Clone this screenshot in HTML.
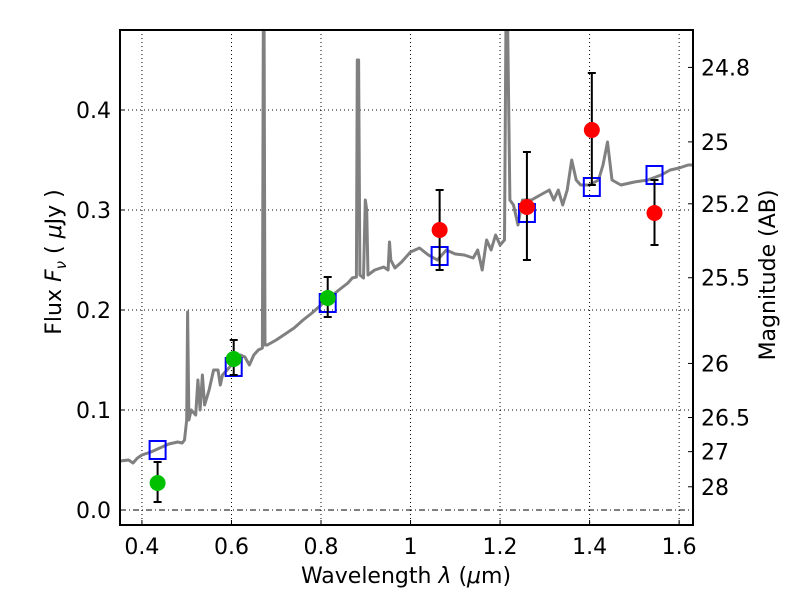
<!DOCTYPE html>
<html><head><meta charset="utf-8"><style>
html,body{margin:0;padding:0;background:#fff;}
svg{display:block;font-family:"DejaVu Sans","Liberation Sans",sans-serif;}
</style></head><body>
<svg id="chart" width="800" height="600" viewBox="0 0 800 600"></svg>
<script>
const specX=[0.35,0.37,0.38,0.39,0.40,0.42,0.44,0.46,0.48,0.49,0.495,0.50,0.502,0.505,0.51,0.52,0.525,0.53,0.535,0.54,0.55,0.56,0.57,0.575,0.58,0.59,0.60,0.61,0.62,0.63,0.64,0.65,0.66,0.669,0.671,0.673,0.675,0.68,0.70,0.72,0.74,0.76,0.78,0.80,0.82,0.84,0.86,0.87,0.879,0.881,0.884,0.887,0.895,0.899,0.902,0.905,0.92,0.94,0.95,0.953,0.956,0.965,0.98,1.0,1.02,1.04,1.06,1.08,1.10,1.12,1.14,1.15,1.16,1.17,1.18,1.19,1.20,1.21,1.213,1.217,1.222,1.23,1.24,1.25,1.27,1.29,1.31,1.32,1.33,1.34,1.35,1.36,1.37,1.38,1.40,1.42,1.43,1.44,1.45,1.47,1.50,1.53,1.56,1.58,1.60,1.62,1.63];
const specY=[0.049,0.050,0.047,0.052,0.055,0.058,0.062,0.066,0.068,0.067,0.070,0.090,0.198,0.090,0.100,0.095,0.130,0.100,0.135,0.105,0.120,0.140,0.140,0.125,0.135,0.140,0.145,0.150,0.155,0.153,0.145,0.155,0.160,0.162,0.480,0.480,0.165,0.165,0.170,0.176,0.182,0.190,0.197,0.205,0.213,0.220,0.227,0.232,0.233,0.450,0.450,0.235,0.232,0.310,0.300,0.235,0.240,0.243,0.240,0.268,0.250,0.242,0.248,0.258,0.262,0.255,0.250,0.260,0.256,0.255,0.252,0.260,0.240,0.270,0.260,0.275,0.265,0.270,0.480,0.480,0.310,0.305,0.285,0.310,0.310,0.315,0.320,0.310,0.320,0.305,0.320,0.350,0.330,0.325,0.325,0.330,0.345,0.368,0.330,0.325,0.328,0.330,0.335,0.340,0.342,0.345,0.345];
const obsX=[0.435,0.605,0.815,1.065,1.26,1.405,1.545];
const obsY=[0.027,0.151,0.212,0.280,0.303,0.380,0.297];
const obsLo=[0.008,0.135,0.193,0.240,0.250,0.325,0.265];
const obsHi=[0.048,0.170,0.233,0.320,0.358,0.437,0.330];
const obsColor=["#00c000","#00c000","#00c000","#ff0000","#ff0000","#ff0000","#ff0000"];
const modelY=[0.060,0.143,0.207,0.254,0.297,0.323,0.335];
const xTicks=[0.4,0.6,0.8,1.0,1.2,1.4,1.6];
const xTickLabels=["0.4","0.6","0.8","1","1.2","1.4","1.6"];
const yTicks=[0.0,0.1,0.2,0.3,0.4];
const yTickLabels=["0.0","0.1","0.2","0.3","0.4"];
const magTicks=[24.8,25,25.2,25.5,26,26.5,27,28];
const magTickLabels=["24.8","25","25.2","25.5","26","26.5","27","28"];

const L=120,R=693,T=30,B=525;
const X0=0.351,X1=1.631,Y0=-0.015,Y1=0.48;
const sx=v=>L+(v-X0)/(X1-X0)*(R-L);
const sy=v=>B-(v-Y0)/(Y1-Y0)*(B-T);
const ZP=23.915;
const magToFlux=m=>Math.pow(10,(ZP-m)/2.5);
const svg=document.getElementById('chart');
const NS='http://www.w3.org/2000/svg';
function mk(tag,attrs,parent){const e=document.createElementNS(NS,tag);for(const k in attrs)e.setAttribute(k,attrs[k]);(parent||svg).appendChild(e);return e;}

const defs=mk('defs',{});
const cp=mk('clipPath',{id:'clip'},defs);
mk('rect',{x:L,y:T,width:R-L,height:B-T},cp);

xTicks.forEach((t,i)=>{
 const g=mk('line',{x1:sx(t),x2:sx(t),y1:T,y2:B,stroke:'#000','stroke-width':1,'stroke-dasharray':'1,3'});
 
 
 const tk=mk('line',{x1:sx(t),x2:sx(t),y1:B,y2:B-5,stroke:'#000'});
 
 
 const tx=mk('text',{x:sx(t),y:B+29,'font-size':22,'text-anchor':'middle'});
 tx.textContent=xTickLabels[i];
 
 
});
yTicks.forEach((t,i)=>{
 const g=mk('line',{x1:L,x2:R,y1:sy(t),y2:sy(t),stroke:'#000','stroke-width':1,'stroke-dasharray':t===0?'6,3,1,3':'1,3'});
 
 
 const tk=mk('line',{x1:L,x2:L+5,y1:sy(t),y2:sy(t),stroke:'#000'});
 
 
 const tx=mk('text',{x:L-9,y:sy(t)+8,'font-size':22,'text-anchor':'end'});
 tx.textContent=yTickLabels[i];
 
 
});
magTicks.forEach((m,i)=>{
 const y=sy(magToFlux(m));
 const tk=mk('line',{x1:R,x2:R-5,y1:y,y2:y,stroke:'#000'});
 
 
 const tx=mk('text',{x:R+8,y:y+8,'font-size':22});
 tx.textContent=magTickLabels[i];
 
 
});

const gp=mk('g',{'clip-path':'url(#clip)'});


const pts=specX.map((x,i)=>sx(x).toFixed(1)+','+sy(specY[i]).toFixed(1)).join(' ');
const sp=mk('polyline',{points:pts,fill:'none',stroke:'#808080','stroke-width':3,'stroke-linejoin':'round'},gp);



obsX.forEach((x,i)=>{
 const cx=sx(x);
 const sq=mk('rect',{x:cx-8,y:sy(modelY[i])-9,width:16,height:18,fill:'none',stroke:'#0000ff','stroke-width':2},gp);
 
 
 const eb=mk('path',{d:`M${cx},${sy(obsLo[i])}V${sy(obsHi[i])}M${cx-4},${sy(obsLo[i])}h8M${cx-4},${sy(obsHi[i])}h8`,stroke:'#000','stroke-width':2,fill:'none'},gp);
 
 
 const c=mk('circle',{cx:cx,cy:sy(obsY[i]),r:8,fill:obsColor[i]},gp);
 
 
});

const fr=mk('rect',{x:L,y:T,width:R-L,height:B-T,fill:'none',stroke:'#000','stroke-width':2});



const xl=mk('text',{x:406,y:583,'font-size':22,'text-anchor':'middle'});
xl.innerHTML='Wavelength  <tspan font-style="italic">λ</tspan> (<tspan font-style="italic">μ</tspan>m)';


const yl=mk('text',{x:0,y:0,'font-size':22,'text-anchor':'middle',transform:'translate(61,262) rotate(-90)'});
yl.setAttribute('xml:space','preserve');
yl.innerHTML='Flux  <tspan font-style="italic">F</tspan><tspan font-style="italic" font-size="15" dy="5">ν</tspan><tspan dy="-5">   ( </tspan><tspan font-style="italic">μ</tspan>Jy )';


const ml=mk('text',{x:0,y:0,'font-size':22,'text-anchor':'middle',transform:'translate(775,275) rotate(-90)'});
ml.textContent='Magnitude (AB)';


</script>
</body></html>
